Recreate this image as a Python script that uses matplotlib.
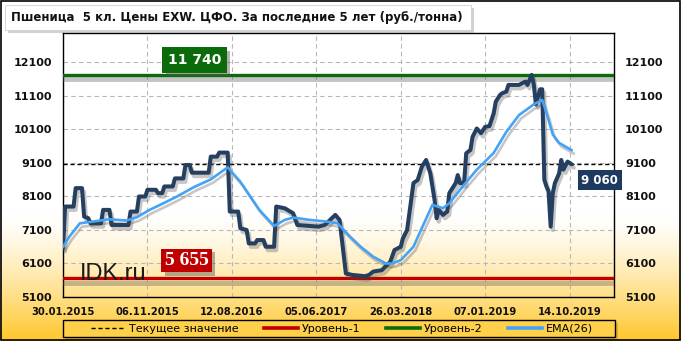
import numpy as np
import matplotlib
matplotlib.use('Agg')
import matplotlib.pyplot as plt
import matplotlib.patheffects as pe
from matplotlib.lines import Line2D
from matplotlib.patches import Rectangle

# ---------------- data ----------------
title = 'Пшеница  5 кл. Цены EXW. ЦФО. За последние 5 лет (руб./тонна)'
tick_labels = ['30.01.2015', '06.11.2015', '12.08.2016', '05.06.2017',
               '26.03.2018', '07.01.2019', '14.10.2019']
tick_weeks = [0, 40, 80, 120, 160, 200, 240]
yticks = [5100, 6100, 7100, 8100, 9100, 10100, 11100, 12100]

price_week = [0, 1, 5, 6, 9, 10, 12, 13, 18, 19, 22, 23, 31, 32, 35, 36, 39, 40,
              44, 45, 47, 48, 52, 53, 57, 58, 60, 61, 69, 70, 73, 74, 78, 79, 83,
              84, 87, 88, 91, 92, 95, 96, 100, 101, 105, 109, 111, 121, 124, 129,
              131, 134, 137, 143, 145, 147, 151, 155, 157, 160, 161, 163, 166, 168,
              170, 172, 174, 176, 177, 178, 180, 182, 183, 186, 187, 188, 190, 191,
              193, 194, 196, 198, 200, 202, 204, 205, 207, 208, 210, 211, 216, 219,
              220, 222, 223, 224, 226, 227, 228, 229, 230, 231, 232, 233, 235, 236,
              237, 239, 241]
price = [6560, 7800, 7800, 8350, 8350, 7500, 7450, 7300, 7300, 7700, 7700, 7250,
         7250, 7650, 7650, 8100, 8100, 8300, 8300, 8200, 8200, 8400, 8400, 8640,
         8640, 9040, 9040, 8810, 8810, 9290, 9290, 9410, 9410, 7650, 7650, 7150,
         7100, 6700, 6700, 6800, 6800, 6600, 6600, 7800, 7750, 7600, 7250, 7200,
         7250, 7550, 7400, 5800, 5760, 5720, 5760, 5860, 5900, 6150, 6500, 6600,
         6850, 7100, 8500, 8590, 8990, 9190, 8790, 8000, 7450, 7700, 7550, 7650,
         8200, 8500, 8740, 8500, 8500, 9390, 9490, 9880, 10130, 9990, 10180, 10200,
         10580, 10930, 11130, 11180, 11230, 11430, 11430, 11530, 11430, 11730,
         11450, 10850, 11300, 11300, 8600, 8400, 8250, 7200, 8200, 8500, 8790,
         9190, 8900, 9140, 9060]

ema_week = [0, 3, 8, 14, 22, 30, 35, 41, 47, 54, 62, 70, 78, 84, 93, 100, 105, 109,
            117, 125, 130, 136, 141, 147, 153, 156, 160, 166, 171, 175, 180, 183,
            190, 196, 204, 210, 216, 223, 227, 229, 232, 235, 241]
ema = [6590, 6900, 7300, 7350, 7420, 7380, 7480, 7700, 7880, 8100, 8380, 8610,
       8970, 8540, 7700, 7220, 7400, 7470, 7400, 7350, 7300, 6900, 6600, 6300,
       6100, 6100, 6200, 6600, 7300, 7850, 7750, 7900, 8450, 8900, 9400, 10030,
       10530, 10850, 10980, 10600, 9950, 9700, 9480]

current_value = 9060
level1 = 5655
level2 = 11740
legend_labels = ['Текущее значение', 'Уровень-1', 'Уровень-2', 'EMA(26)']

# ---------------- colours ----------------
c_price = '#243F60'
c_ema = '#45A3F5'
c_green = '#0B6B0B'
c_red = '#C00000'
c_navy = '#1F3A60'

W, H = 681, 341
fig = plt.figure(figsize=(W / 100, H / 100), dpi=100)


def fx(x):
    return x / W


def fy(y):
    return 1 - y / H


# background gradient
bg = fig.add_axes([0, 0, 1, 1], zorder=-10)
yy = np.linspace(0, 1, 400)[:, None]
t = np.clip((yy * H - 215) / (H - 215), 0, 1) ** 1.3
top = np.array([1.0, 1.0, 1.0])
bot = np.array([1.0, 0.78, 0.17])
img = top + (bot - top) * t[..., None]
img = np.repeat(img, 2, axis=1)
bg.imshow(img, aspect='auto', extent=[0, 1, 1, 0])
bg.set_xlim(0, 1)
bg.set_ylim(1, 0)
bg.axis('off')

# figure border
fig.patches.append(Rectangle((0.0008, 0.0015), 0.998, 0.997, transform=fig.transFigure,
                             fill=False, ec='black', lw=1.2, zorder=5))

# title box
sh = Rectangle((fx(8), fy(33)), fx(466), 25 / H, transform=fig.transFigure,
               fc='#9a9a9a', ec='none', alpha=0.45, zorder=1)
box = Rectangle((fx(5), fy(30)), fx(466), 25 / H, transform=fig.transFigure,
                fc='white', ec='#d0d0d0', lw=0.6, zorder=2)
fig.patches.extend([sh, box])
ttl = fig.text(fx(11), fy(17.5), title, fontsize=9, fontweight='bold',
               ha='left', va='center', color='#111111', zorder=3,
               family='DejaVu Sans')
r = fig.canvas.get_renderer()
wpx = ttl.get_window_extent(r).width
ttl.set_fontsize(9 * 450 / wpx)

# main axes
L, R, T, B = 63, 614, 33, 297
ax = fig.add_axes([fx(L), fy(B), fx(R - L), (B - T) / H])
ax.set_facecolor('none')
ax.set_xlim(0, 261)
ax.set_ylim(5100, 12980)

for s in ax.spines.values():
    s.set_color('black')
    s.set_linewidth(1.0)

ax.set_yticks(yticks)
ax.set_yticklabels([str(v) for v in yticks])
ax.set_xticks(tick_weeks)
ax.set_xticklabels(tick_labels)
ax.tick_params(axis='y', length=0, labelleft=True, labelright=True, pad=8,
               labelsize=8)
ax.tick_params(axis='x', length=0, pad=7, labelsize=7.2)
for lab in ax.get_yticklabels() + ax.get_xticklabels():
    lab.set_fontweight('bold')
    lab.set_color('#111111')
ax.grid(True, color='#b8b8b8', lw=0.8, ls=(0, (4, 3)))
ax.set_axisbelow(True)

shadow = [pe.SimpleLineShadow(offset=(1.5, -2.5), shadow_color='#444444', alpha=0.3),
          pe.Normal()]

# current value line
ax.axhline(current_value, color='black', lw=1.0, ls=(0, (3, 2)), zorder=3)
# levels
lvl_shadow = [pe.SimpleLineShadow(offset=(0, -3), shadow_color='#555555',
                                  alpha=0.35, linewidth=3.5), pe.Normal()]
ax.axhline(level2, color=c_green, lw=2.4, zorder=3, path_effects=lvl_shadow)
ax.axhline(level1, color=c_red, lw=2.4, zorder=3, path_effects=lvl_shadow)

# series
ax.plot(price_week, price, color=c_price, lw=2.9, solid_joinstyle='round',
        solid_capstyle='round', zorder=5, path_effects=shadow)
ax.plot(ema_week, ema, color=c_ema, lw=1.9, solid_joinstyle='round',
        solid_capstyle='round', zorder=6, path_effects=shadow)

box_shadow = [pe.SimplePatchShadow(offset=(2.5, -2.5), shadow_rgbFace='#555555',
                                   alpha=0.45), pe.Normal()]

t1 = ax.text(62.3, 12175, '11 740', color='white', fontsize=10, fontweight='bold',
             ha='center', va='center', zorder=8, family='DejaVu Sans',
             bbox=dict(boxstyle='square,pad=0.4', fc=c_green, ec='none'))
t1.get_bbox_patch().set_path_effects(box_shadow)

t2 = ax.text(58.5, 6190, '5 655', color='white', fontsize=14, fontweight='bold',
             ha='center', va='center', zorder=8, family='Liberation Serif',
             bbox=dict(boxstyle='square,pad=0.16', fc=c_red, ec='none'))
t2.get_bbox_patch().set_path_effects(box_shadow)

t3 = ax.text(254.2, 8590, '9 060', color='white', fontsize=8.5, fontweight='bold',
             ha='center', va='center', zorder=8, family='DejaVu Sans', clip_on=False,
             bbox=dict(boxstyle='square,pad=0.3', fc=c_navy, ec='none'))

ax.text(8, 5800, 'IDK.ru', fontsize=17, family='Liberation Sans', color='#1a1a1a',
        ha='left', va='center', zorder=7)

# legend frame
lsh = Rectangle((fx(66), fy(340)), fx(552), 17 / H, transform=fig.transFigure,
                fc='#a08020', ec='none', alpha=0.35, zorder=1)
lbox = Rectangle((fx(63), fy(337)), fx(552), 17 / H, transform=fig.transFigure,
                 fc='#FFD04A', ec='black', lw=1.0, zorder=2)
fig.patches.extend([lsh, lbox])

handles = [Line2D([], [], color='black', lw=1.0, ls=(0, (3, 2))),
           Line2D([], [], color=c_red, lw=2.6),
           Line2D([], [], color=c_green, lw=2.6),
           Line2D([], [], color=c_ema, lw=2.6)]
leg = fig.legend(handles, legend_labels, loc='center', ncol=4,
                 bbox_to_anchor=(fx(342), fy(328.5)), frameon=False,
                 fontsize=8, handlelength=3.1, handletextpad=0.3,
                 columnspacing=2.3, borderpad=0)
leg.set_zorder(4)

fig.savefig('out.png', dpi=100)
